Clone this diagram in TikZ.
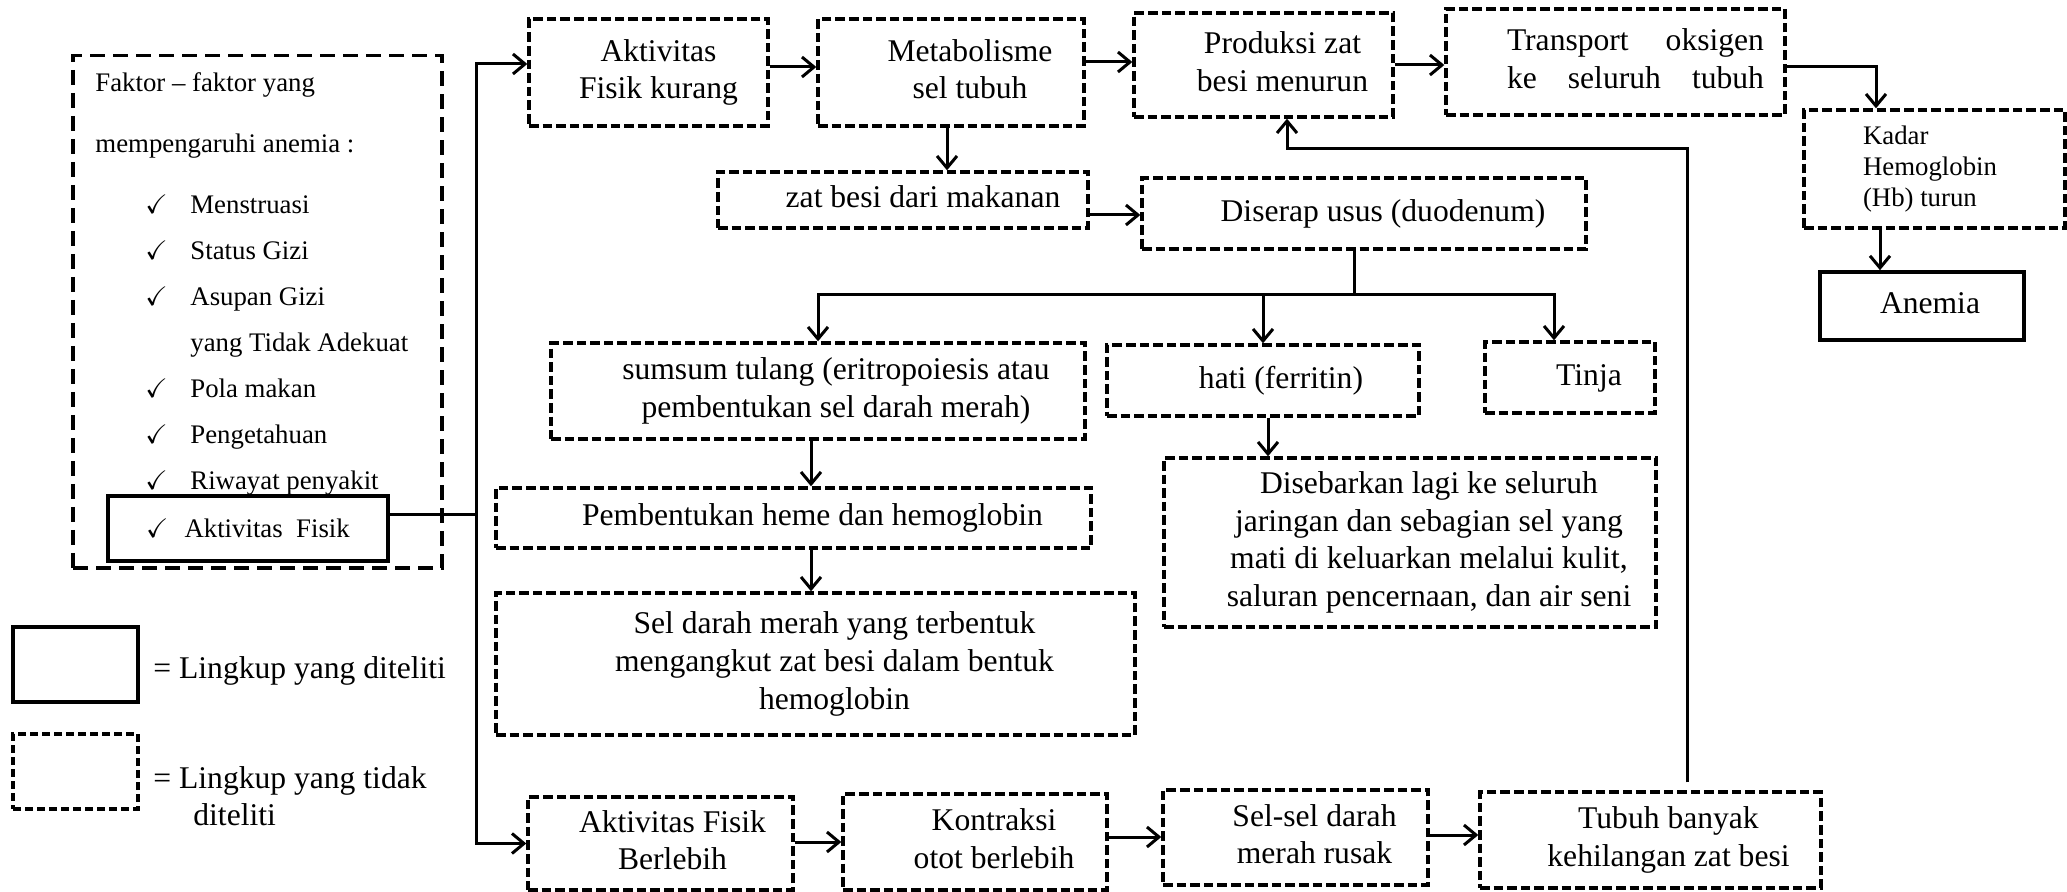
\documentclass[tikz,border=0pt]{standalone}
\usepackage{fontspec}
\setmainfont{Liberation Serif}
\usepackage{amssymb}
\usetikzlibrary{arrows.meta,calc}
\newcommand\tb[2]{\hspace*{#1}\begin{tabular}{@{}c@{}}#2\end{tabular}}
\newcommand\tl[2]{\hspace*{#1}\begin{tabular}{@{}l@{}}#2\end{tabular}}
\begin{document}
\begin{tikzpicture}[x=0.5pt,y=-0.5pt,
  every node/.style={inner sep=0pt, font=\fontsize{15.8}{18.8}\selectfont},
  dbox/.style={draw, line width=1.7pt, dash pattern=on 4.8pt off 2pt, rectangle},
  sbox/.style={draw, line width=2pt, rectangle},
  arr/.style={line width=1.5pt, -{Straight Barb[length=6pt,width=10pt]}},
  ln/.style={line width=1.5pt},
  small/.style={font=\fontsize{13.4}{15.5}\selectfont},
  item/.style={small, anchor=base west},
]
\useasboundingbox (0,0) rectangle (2067,892);

% ---------- factors box ----------
\node[dbox, dash pattern=on 7.5pt off 4pt, minimum width=184.5pt, minimum height=256.25pt] (faktor) at (257.5,311.75) {};
\node[item] (f0) at (95,92) {Faktor -- faktor yang};
\node[item] (f00) at (95,153) {mempengaruhi anemia :};
\node[item] (f1) at (145,214) {\makebox[22.5pt][l]{$\checkmark$}Menstruasi};
\node[item] (f2) at (145,260) {\makebox[22.5pt][l]{$\checkmark$}Status Gizi};
\node[item] (f3) at (145,306) {\makebox[22.5pt][l]{$\checkmark$}Asupan Gizi};
\node[item] (f4) at (190,352) {yang Tidak Adekuat};
\node[item] (f5) at (145,398) {\makebox[22.5pt][l]{$\checkmark$}Pola makan};
\node[item] (f6) at (145,444) {\makebox[22.5pt][l]{$\checkmark$}Pengetahuan};
\node[item] (f7) at (145,490) {\makebox[22.5pt][l]{$\checkmark$}Riwayat penyakit};
\node[sbox, small, minimum width=140pt, minimum height=32.5pt] (akt) at (248,528.5) {$\checkmark$\hspace{8pt}Aktivitas\ \ Fisik};

% ---------- top row ----------
\node[dbox, minimum width=119.5pt, minimum height=53.5pt] (aktk) at (648.5,72.5) {\tb{10pt}{Aktivitas\\Fisik kurang}};
\node[dbox, minimum width=133pt, minimum height=53.5pt] (metab) at (951,72.5) {\tb{19pt}{Metabolisme\\sel tubuh}};
\node[dbox, minimum width=129.5pt, minimum height=52pt] (prod) at (1263.5,65) {\tb{19pt}{Produksi zat\\besi menurun}};
\node[dbox, minimum width=169.5pt, minimum height=53pt] (trans) at (1615.5,62) {\tb{20pt}{\hbox to 128.5pt{Transport\hfill oksigen}\\\hbox to 128.5pt{ke\hfill seluruh\hfill tubuh}}};
\node[dbox, small, minimum width=130.5pt, minimum height=59pt] (kadar) at (1934.5,169) {\tl{-4.5pt}{Kadar\\Hemoglobin\\(Hb) turun}};
\node[sbox, line width=1.8pt, minimum width=102pt, minimum height=34pt] (anemia) at (1922,306) {\tb{8pt}{Anemia}};

% ---------- middle ----------
\node[dbox, minimum width=185pt, minimum height=28pt] (zatb) at (903,200) {\tb{20pt}{zat besi dari makanan}};
\node[dbox, minimum width=222pt, minimum height=35.5pt] (diserap) at (1364,213.5) {\tb{19pt}{Diserap usus (duodenum)}};
\node[dbox, minimum width=267pt, minimum height=48pt] (sumsum) at (818,391) {\tb{18pt}{sumsum tulang (eritropoiesis atau\\pembentukan sel darah merah)}};
\node[dbox, minimum width=156pt, minimum height=35.5pt] (hati) at (1263,380.5) {\tb{18pt}{hati (ferritin)}};
\node[dbox, minimum width=85pt, minimum height=35.5pt] (tinja) at (1570,377.5) {\tb{19pt}{Tinja}};
\node[dbox, minimum width=297.5pt, minimum height=30pt] (pemb) at (793.5,518) {\tb{19pt}{Pembentukan heme dan hemoglobin}};
\node[dbox, minimum width=319.5pt, minimum height=71pt] (seld) at (815.5,664) {\tb{19pt}{Sel darah merah yang terbentuk\\mengangkut zat besi dalam bentuk\\hemoglobin}};
\node[dbox, minimum width=246pt, minimum height=84.5pt] (diseb) at (1410,542.5) {\tb{19pt}{Disebarkan lagi ke seluruh\\jaringan dan sebagian sel yang\\mati di keluarkan melalui kulit,\\saluran pencernaan, dan air seni}};

% ---------- bottom row ----------
\node[dbox, minimum width=132.5pt, minimum height=46.5pt] (aktb) at (660.5,843.5) {\raisebox{-3pt}{\tb{12pt}{Aktivitas Fisik\\Berlebih}}};
\node[dbox, minimum width=132pt, minimum height=48pt] (kontr) at (975,842) {\raisebox{-3pt}{\tb{19pt}{Kontraksi\\otot berlebih}}};
\node[dbox, minimum width=132.5pt, minimum height=47.5pt] (selsel) at (1295.5,837.5) {\raisebox{-2pt}{\tb{19pt}{Sel-sel darah\\merah rusak}}};
\node[dbox, minimum width=170.5pt, minimum height=48pt] (tubuh) at (1650.5,840) {\raisebox{-2pt}{\tb{18pt}{Tubuh banyak\\kehilangan zat besi}}};

% ---------- legend ----------
\node[sbox, minimum width=62.5pt, minimum height=37.5pt] (legS) at (75.5,664.5) {};
\node[anchor=base west] (legSt) at (153,679) {= Lingkup yang diteliti};
\node[dbox, dash pattern=on 4pt off 2pt, minimum width=62.5pt, minimum height=37.5pt] (legD) at (75.5,771.5) {};
\node[anchor=base west] (legDt) at (153,788) {= Lingkup yang tidak};
\node[anchor=base west] (legDt2) at (193,825) {diteliti};

% ---------- helper coordinates ----------
\coordinate (j) at (476,515);
\coordinate (ya) at (0,64);
\coordinate (yb) at (0,67);
\coordinate (yc) at (0,62);
\coordinate (yd) at (0,65);
\coordinate (ye) at (0,67);
\coordinate (xk) at (1876,0);
\coordinate (xa) at (1880,0);
\coordinate (xm) at (947,0);
\coordinate (yz) at (0,215);
\coordinate (sp) at (1354,295);
\coordinate (xt) at (1554,0);
\coordinate (xs) at (811,0);
\coordinate (xd) at (1268,0);
\coordinate (yk) at (0,842);
\coordinate (yl) at (0,837);
\coordinate (ym) at (0,835);
\coordinate (fb) at (1687,149);
\coordinate (xp) at (1287,0);

% ---------- connectors ----------
\draw[ln] (akt.east |- j) -- (j);
\draw[arr] (j) |- (aktk.west |- ya);
\draw[arr] (j) |- (aktb.west);
\draw[arr] (aktk.east |- yb) -- (metab.west |- yb);
\draw[arr] (metab.east |- yc) -- (prod.west |- yc);
\draw[arr] (prod.east |- yd) -- (trans.west |- yd);
\draw[arr] (trans.east |- ye) -| (kadar.north -| xk);
\draw[arr] (kadar.south -| xa) -- (anemia.north -| xa);
\draw[arr] (metab.south -| xm) -- (zatb.north -| xm);
\draw[arr] (zatb.east |- yz) -- (diserap.west |- yz);
\draw[ln] (diserap.south -| sp) -- (sp);
\draw[arr] (sp) -| (sumsum.north);
\draw[arr] (sp) -| (hati.north);
\draw[arr] (sp) -| (tinja.north -| xt);
\draw[arr] (sumsum.south -| xs) -- (pemb.north -| xs);
\draw[arr] (pemb.south -| xs) -- (seld.north -| xs);
\draw[arr] (hati.south -| xd) -- (diseb.north -| xd);
\draw[arr] (aktb.east |- yk) -- (kontr.west |- yk);
\draw[arr] (kontr.east |- yl) -- (selsel.west |- yl);
\draw[arr] (selsel.east |- ym) -- (tubuh.west |- ym);
\draw[arr, shorten <=4pt] (tubuh.north -| fb) -- (fb) -| (prod.south -| xp);
\end{tikzpicture}
\end{document}
